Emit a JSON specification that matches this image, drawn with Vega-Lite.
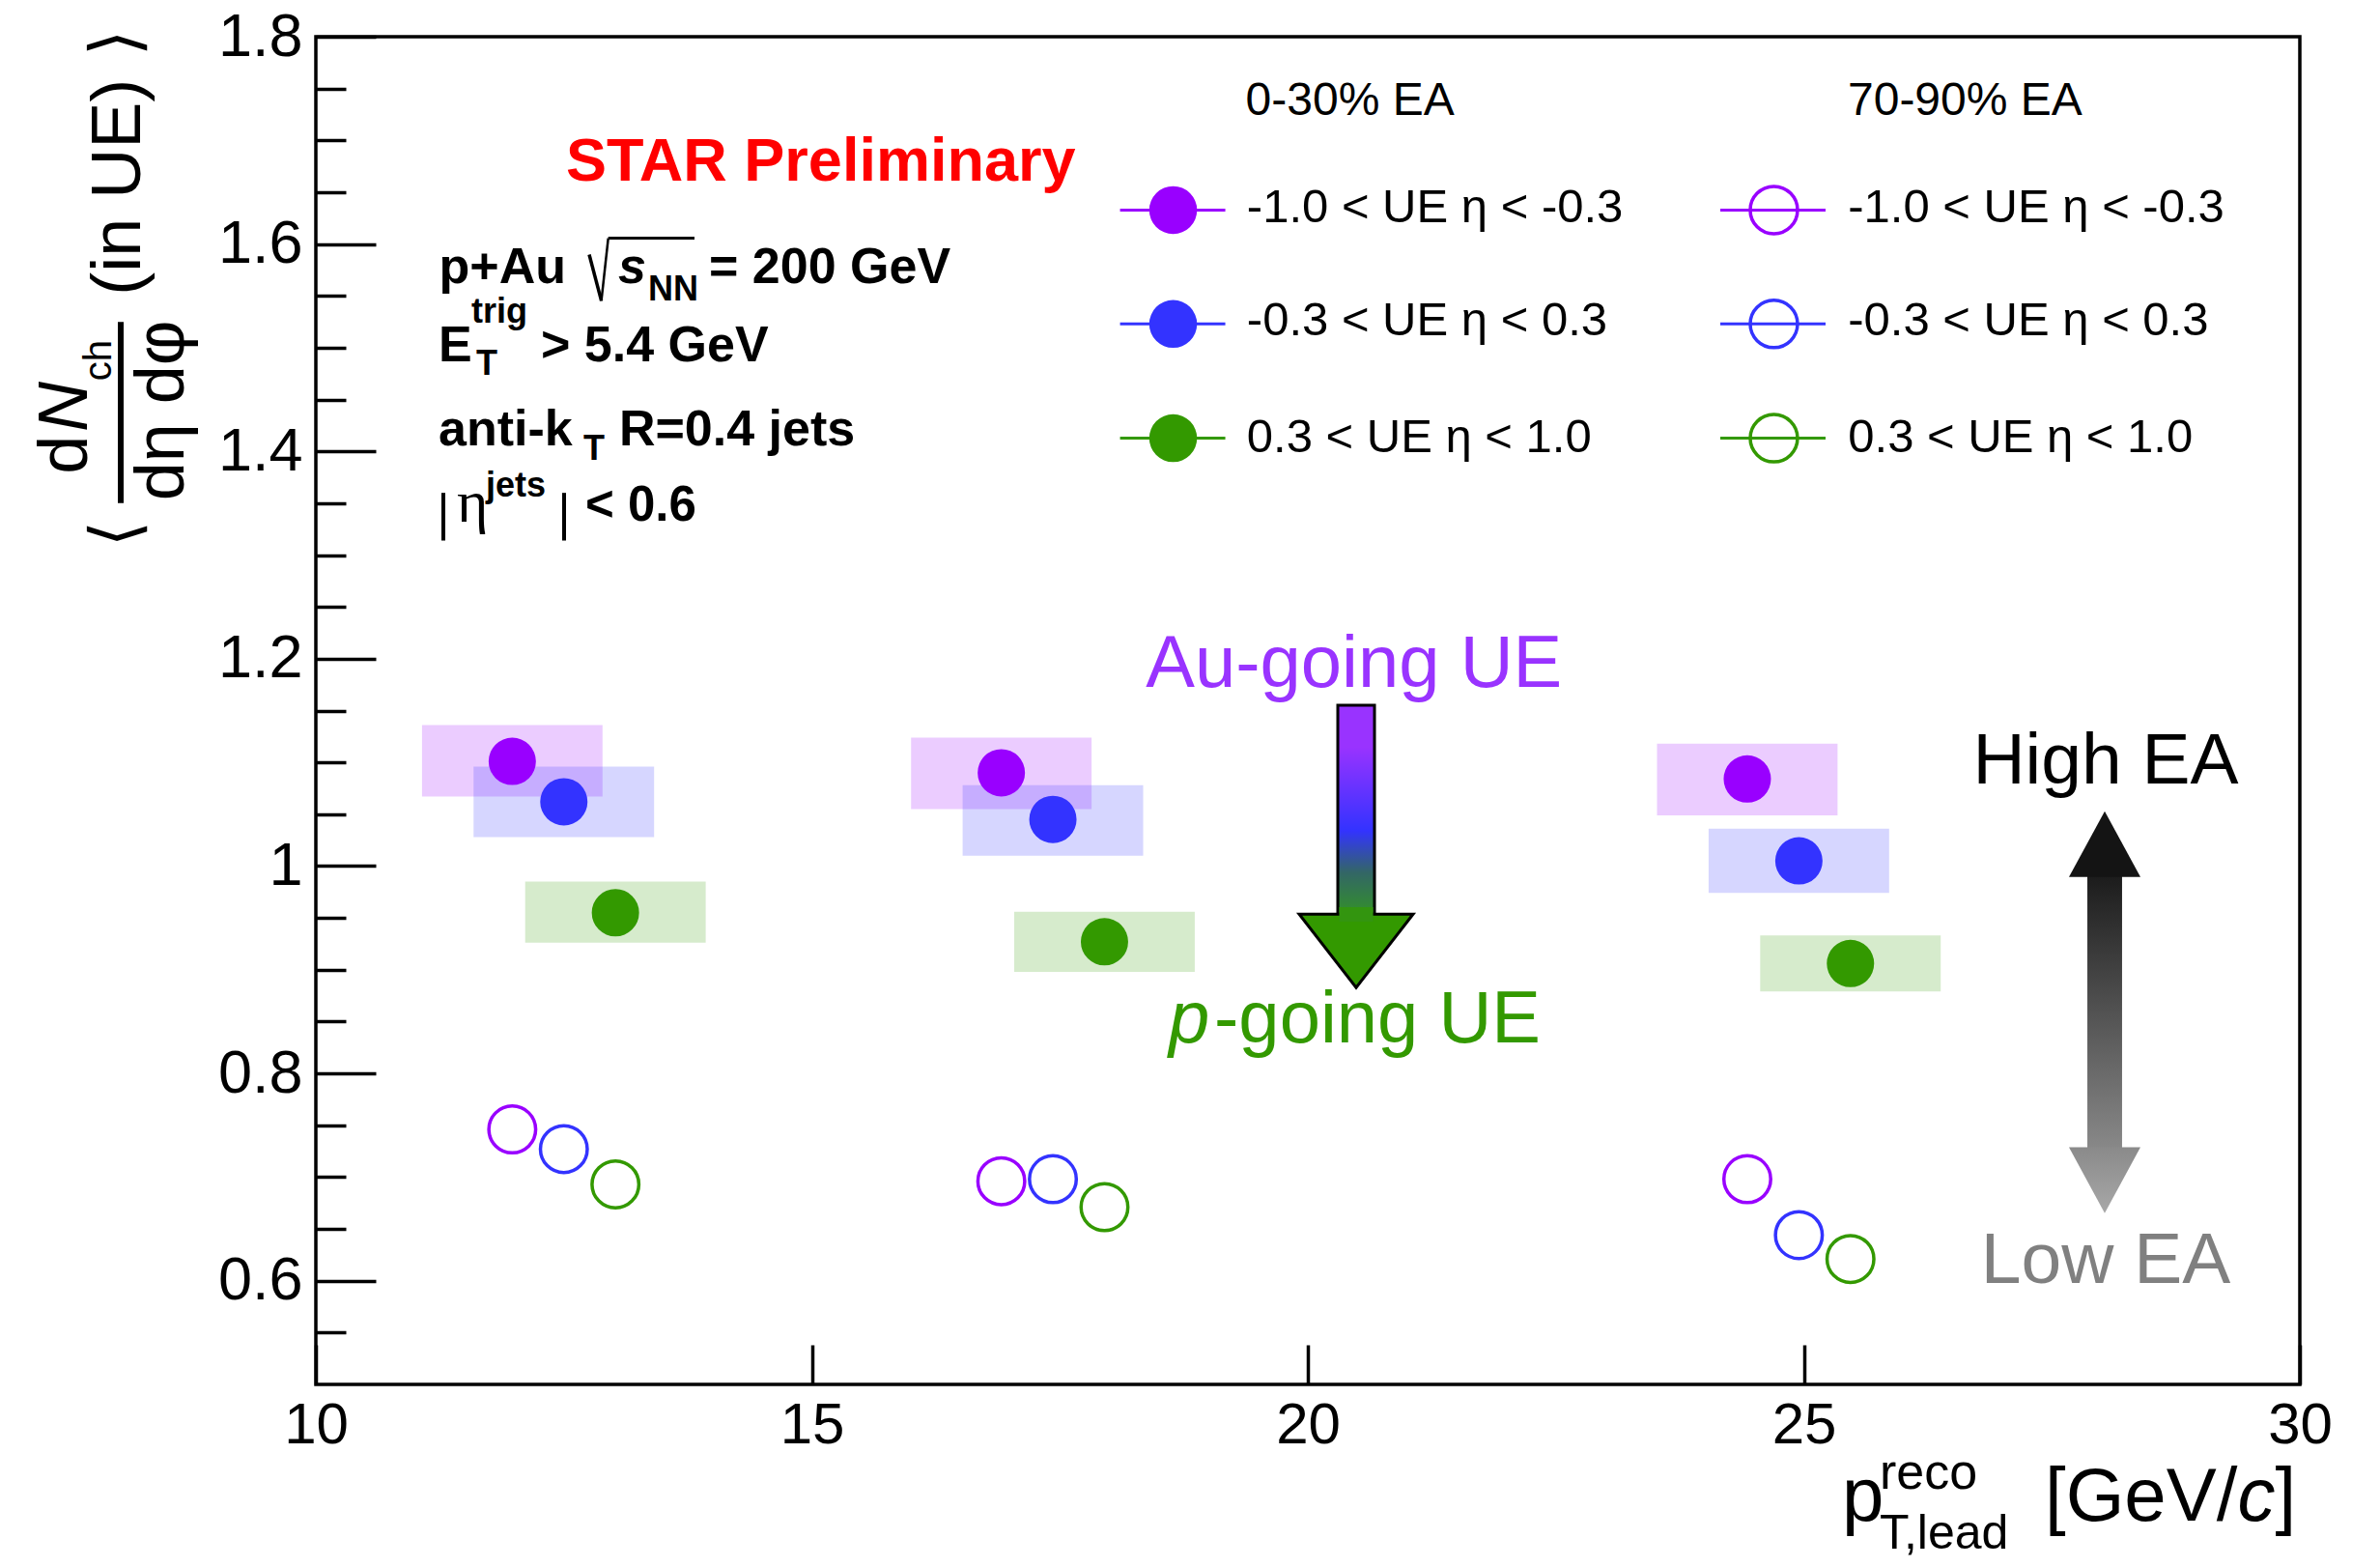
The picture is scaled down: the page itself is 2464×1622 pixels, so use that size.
{
  "$schema": "https://vega.github.io/schema/vega-lite/v6.json",
  "width": 2054,
  "height": 1395,
  "autosize": "none",
  "padding": {"left": 327, "top": 38, "right": 83, "bottom": 189},
  "background": "white",
  "config": {
    "font": "Liberation Sans",
    "view": {"stroke": "black", "strokeWidth": 3.5}
  },
  "resolve": {"axis": {"x": "independent", "y": "independent"}},
  "datasets": {
    "sys": [
      {"eta": "-1.0 < UE η < -0.3", "x0": 11.07, "x1": 12.89, "y0": 1.067, "y1": 1.136},
      {"eta": "-0.3 < UE η < 0.3", "x0": 11.59, "x1": 13.41, "y0": 1.028, "y1": 1.096},
      {"eta": "0.3 < UE η < 1.0", "x0": 12.11, "x1": 13.93, "y0": 0.926, "y1": 0.985},
      {"eta": "-1.0 < UE η < -0.3", "x0": 16.0, "x1": 17.82, "y0": 1.055, "y1": 1.124},
      {"eta": "-0.3 < UE η < 0.3", "x0": 16.52, "x1": 18.34, "y0": 1.01, "y1": 1.078},
      {"eta": "0.3 < UE η < 1.0", "x0": 17.04, "x1": 18.86, "y0": 0.898, "y1": 0.956},
      {"eta": "-1.0 < UE η < -0.3", "x0": 23.52, "x1": 25.34, "y0": 1.049, "y1": 1.118},
      {"eta": "-0.3 < UE η < 0.3", "x0": 24.04, "x1": 25.86, "y0": 0.974, "y1": 1.036},
      {"eta": "0.3 < UE η < 1.0", "x0": 24.56, "x1": 26.38, "y0": 0.879, "y1": 0.933}
    ],
    "high": [
      {"eta": "-1.0 < UE η < -0.3", "pt": 11.98, "val": 1.101},
      {"eta": "-0.3 < UE η < 0.3", "pt": 12.5, "val": 1.062},
      {"eta": "0.3 < UE η < 1.0", "pt": 13.02, "val": 0.955},
      {"eta": "-1.0 < UE η < -0.3", "pt": 16.91, "val": 1.09},
      {"eta": "-0.3 < UE η < 0.3", "pt": 17.43, "val": 1.045},
      {"eta": "0.3 < UE η < 1.0", "pt": 17.95, "val": 0.927},
      {"eta": "-1.0 < UE η < -0.3", "pt": 24.43, "val": 1.084},
      {"eta": "-0.3 < UE η < 0.3", "pt": 24.95, "val": 1.005},
      {"eta": "0.3 < UE η < 1.0", "pt": 25.47, "val": 0.906}
    ],
    "low": [
      {"eta": "-1.0 < UE η < -0.3", "pt": 11.98, "val": 0.746},
      {"eta": "-0.3 < UE η < 0.3", "pt": 12.5, "val": 0.727},
      {"eta": "0.3 < UE η < 1.0", "pt": 13.02, "val": 0.693},
      {"eta": "-1.0 < UE η < -0.3", "pt": 16.91, "val": 0.696},
      {"eta": "-0.3 < UE η < 0.3", "pt": 17.43, "val": 0.698},
      {"eta": "0.3 < UE η < 1.0", "pt": 17.95, "val": 0.671},
      {"eta": "-1.0 < UE η < -0.3", "pt": 24.43, "val": 0.698},
      {"eta": "-0.3 < UE η < 0.3", "pt": 24.95, "val": 0.644},
      {"eta": "0.3 < UE η < 1.0", "pt": 25.47, "val": 0.621}
    ]
  },
  "layer": [
    {
      "data": {"name": "sys"},
      "mark": {"type": "rect", "opacity": 0.2},
      "encoding": {
        "x": {"field": "x0", "type": "quantitative",
          "scale": {"domain": [10, 30], "nice": false, "zero": false},
          "axis": null},
        "x2": {"field": "x1"},
        "y": {"field": "y0", "type": "quantitative",
          "scale": {"domain": [0.5, 1.8], "nice": false, "zero": false},
          "axis": {"title": null, "orient": "left",
            "values": [0.6, 0.8, 1, 1.2, 1.4, 1.6, 1.8],
            "tickSize": -62,
            "labelExpr": "format(datum.value,'.1~f')",
            "tickWidth": 3.5, "tickColor": "black", "labelPadding": 76, "labelFont": "Liberation Sans", "labelFontSize": 63,
            "labelColor": "black", "labelOverlap": false, "labelFlush": false, "domain": false, "grid": false}},
        "y2": {"field": "y1"},
        "color": {"field": "eta", "type": "nominal",
          "scale": {"domain": ["-1.0 < UE η < -0.3", "-0.3 < UE η < 0.3", "0.3 < UE η < 1.0"], "range": ["#9900ff", "#3333ff", "#339900"]},
          "legend": null}
      }
    },
    {
      "data": {"name": "high"},
      "mark": {"type": "point", "filled": true, "size": 2400, "opacity": 1, "strokeWidth": 0},
      "encoding": {
        "x": {"field": "pt", "type": "quantitative",
          "axis": {"title": null, "orient": "bottom", "values": [10, 15, 20, 25, 30], "tickSize": -41, "tickWidth": 3.5, "tickColor": "black",
            "labelPadding": 54, "labelFont": "Liberation Sans", "labelFontSize": 60, "labelColor": "black", "labelFlush": false,
            "labelExpr": "format(datum.value,'d')", "domain": false, "grid": false}},
        "y": {"field": "val", "type": "quantitative",
          "axis": {"title": null, "orient": "left",
            "values": [0.55, 0.65, 0.7, 0.75, 0.85, 0.9, 0.95, 1.05, 1.1, 1.15, 1.25, 1.3, 1.35, 1.45, 1.5, 1.55, 1.65, 1.7, 1.75],
            "tickSize": -31, "tickWidth": 3.5, "tickColor": "black", "labels": false, "domain": false, "grid": false}},
        "color": {"field": "eta", "type": "nominal",
          "scale": {"domain": ["-1.0 < UE η < -0.3", "-0.3 < UE η < 0.3", "0.3 < UE η < 1.0"], "range": ["#9900ff", "#3333ff", "#339900"]},
          "legend": null}
      }
    },
    {
      "data": {"name": "low"},
      "mark": {"type": "point", "filled": false, "size": 2350, "opacity": 1, "strokeWidth": 3.5},
      "encoding": {
        "x": {"field": "pt", "type": "quantitative", "axis": null},
        "y": {"field": "val", "type": "quantitative", "axis": null},
        "color": {"field": "eta", "type": "nominal",
          "scale": {"domain": ["-1.0 < UE η < -0.3", "-0.3 < UE η < 0.3", "0.3 < UE η < 1.0"], "range": ["#9900ff", "#3333ff", "#339900"]},
          "legend": null}
      }
    },
    {"data": {"values": [{}]}, "mark": {"type": "text", "text": "0-30% EA", "fontSize": 48, "color": "black", "align": "left", "baseline": "alphabetic"},
      "encoding": {"x": {"datum": 19.373, "type": "quantitative", "axis": null}, "y": {"datum": 1.7247, "type": "quantitative", "axis": null}}},
    {"data": {"values": [{}]}, "mark": {"type": "text", "text": "70-90% EA", "fontSize": 48, "color": "black", "align": "left", "baseline": "alphabetic"},
      "encoding": {"x": {"datum": 25.443, "type": "quantitative", "axis": null}, "y": {"datum": 1.7247, "type": "quantitative", "axis": null}}},

    {"data": {"values": [{}]}, "mark": {"type": "rule", "color": "#9900ff", "strokeWidth": 3},
      "encoding": {"x": {"datum": 18.107, "type": "quantitative", "axis": null}, "x2": {"datum": 19.168}, "y": {"datum": 1.6328, "type": "quantitative", "axis": null}}},
    {"data": {"values": [{}]}, "mark": {"type": "point", "filled": true, "fill": "#9900ff", "strokeWidth": 0, "size": 2450, "opacity": 1},
      "encoding": {"x": {"datum": 18.642, "type": "quantitative", "axis": null}, "y": {"datum": 1.6328, "type": "quantitative", "axis": null}}},
    {"data": {"values": [{}]}, "mark": {"type": "text", "text": "-1.0 < UE η < -0.3", "fontSize": 49, "color": "black", "align": "left", "baseline": "alphabetic"},
      "encoding": {"x": {"datum": 19.385, "type": "quantitative", "axis": null}, "y": {"datum": 1.6211, "type": "quantitative", "axis": null}}},

    {"data": {"values": [{}]}, "mark": {"type": "rule", "color": "#3333ff", "strokeWidth": 3},
      "encoding": {"x": {"datum": 18.107, "type": "quantitative", "axis": null}, "x2": {"datum": 19.168}, "y": {"datum": 1.5229, "type": "quantitative", "axis": null}}},
    {"data": {"values": [{}]}, "mark": {"type": "point", "filled": true, "fill": "#3333ff", "strokeWidth": 0, "size": 2450, "opacity": 1},
      "encoding": {"x": {"datum": 18.642, "type": "quantitative", "axis": null}, "y": {"datum": 1.5229, "type": "quantitative", "axis": null}}},
    {"data": {"values": [{}]}, "mark": {"type": "text", "text": "-0.3 < UE η < 0.3", "fontSize": 49, "color": "black", "align": "left", "baseline": "alphabetic"},
      "encoding": {"x": {"datum": 19.385, "type": "quantitative", "axis": null}, "y": {"datum": 1.5118, "type": "quantitative", "axis": null}}},

    {"data": {"values": [{}]}, "mark": {"type": "rule", "color": "#339900", "strokeWidth": 3},
      "encoding": {"x": {"datum": 18.107, "type": "quantitative", "axis": null}, "x2": {"datum": 19.168}, "y": {"datum": 1.4127, "type": "quantitative", "axis": null}}},
    {"data": {"values": [{}]}, "mark": {"type": "point", "filled": true, "fill": "#339900", "strokeWidth": 0, "size": 2450, "opacity": 1},
      "encoding": {"x": {"datum": 18.642, "type": "quantitative", "axis": null}, "y": {"datum": 1.4127, "type": "quantitative", "axis": null}}},
    {"data": {"values": [{}]}, "mark": {"type": "text", "text": "0.3 < UE η < 1.0", "fontSize": 49, "color": "black", "align": "left", "baseline": "alphabetic"},
      "encoding": {"x": {"datum": 19.385, "type": "quantitative", "axis": null}, "y": {"datum": 1.3997, "type": "quantitative", "axis": null}}},

    {"data": {"values": [{}]}, "mark": {"type": "rule", "color": "#9900ff", "strokeWidth": 3},
      "encoding": {"x": {"datum": 24.158, "type": "quantitative", "axis": null}, "x2": {"datum": 25.219}, "y": {"datum": 1.6328, "type": "quantitative", "axis": null}}},
    {"data": {"values": [{}]}, "mark": {"type": "point", "filled": false, "stroke": "#9900ff", "strokeWidth": 3.5, "size": 2400, "opacity": 1},
      "encoding": {"x": {"datum": 24.698, "type": "quantitative", "axis": null}, "y": {"datum": 1.6328, "type": "quantitative", "axis": null}}},
    {"data": {"values": [{}]}, "mark": {"type": "text", "text": "-1.0 < UE η < -0.3", "fontSize": 49, "color": "black", "align": "left", "baseline": "alphabetic"},
      "encoding": {"x": {"datum": 25.446, "type": "quantitative", "axis": null}, "y": {"datum": 1.6211, "type": "quantitative", "axis": null}}},

    {"data": {"values": [{}]}, "mark": {"type": "rule", "color": "#3333ff", "strokeWidth": 3},
      "encoding": {"x": {"datum": 24.158, "type": "quantitative", "axis": null}, "x2": {"datum": 25.219}, "y": {"datum": 1.5229, "type": "quantitative", "axis": null}}},
    {"data": {"values": [{}]}, "mark": {"type": "point", "filled": false, "stroke": "#3333ff", "strokeWidth": 3.5, "size": 2400, "opacity": 1},
      "encoding": {"x": {"datum": 24.698, "type": "quantitative", "axis": null}, "y": {"datum": 1.5229, "type": "quantitative", "axis": null}}},
    {"data": {"values": [{}]}, "mark": {"type": "text", "text": "-0.3 < UE η < 0.3", "fontSize": 49, "color": "black", "align": "left", "baseline": "alphabetic"},
      "encoding": {"x": {"datum": 25.446, "type": "quantitative", "axis": null}, "y": {"datum": 1.5118, "type": "quantitative", "axis": null}}},

    {"data": {"values": [{}]}, "mark": {"type": "rule", "color": "#339900", "strokeWidth": 3},
      "encoding": {"x": {"datum": 24.158, "type": "quantitative", "axis": null}, "x2": {"datum": 25.219}, "y": {"datum": 1.4127, "type": "quantitative", "axis": null}}},
    {"data": {"values": [{}]}, "mark": {"type": "point", "filled": false, "stroke": "#339900", "strokeWidth": 3.5, "size": 2400, "opacity": 1},
      "encoding": {"x": {"datum": 24.698, "type": "quantitative", "axis": null}, "y": {"datum": 1.4127, "type": "quantitative", "axis": null}}},
    {"data": {"values": [{}]}, "mark": {"type": "text", "text": "0.3 < UE η < 1.0", "fontSize": 49, "color": "black", "align": "left", "baseline": "alphabetic"},
      "encoding": {"x": {"datum": 25.446, "type": "quantitative", "axis": null}, "y": {"datum": 1.3997, "type": "quantitative", "axis": null}}},

    {
      "data": {"values": [{}]},
      "mark": {"type": "rect", "stroke": "black", "strokeWidth": 3,
        "fill": {"gradient": "linear", "x1": 0, "y1": 0, "x2": 0, "y2": 1,
          "stops": [{"offset": 0, "color": "#9933ff"}, {"offset": 0.2, "color": "#9933ff"}, {"offset": 0.6, "color": "#3333ff"}, {"offset": 0.8, "color": "#336666"}, {"offset": 1, "color": "#33902a"}]}},
      "encoding": {
        "x": {"datum": 20.302, "type": "quantitative", "axis": null},
        "x2": {"datum": 20.672},
        "y": {"datum": 1.1552, "type": "quantitative", "axis": null},
        "y2": {"datum": 0.9535}
      }
    },
    {
      "data": {"values": [{}]},
      "mark": {"type": "point", "shape": "M -1 -0.644 L 1 -0.644 L 0 0.644 Z", "size": 13924, "filled": true, "fill": "#339900", "stroke": "black", "strokeWidth": 3, "opacity": 1},
      "encoding": {
        "x": {"datum": 20.487, "type": "quantitative", "axis": null},
        "y": {"datum": 0.9182, "type": "quantitative", "axis": null}
      }
    },
    {
      "data": {"values": [{}]},
      "mark": {"type": "rect", "fill": "#33950f", "opacity": 1},
      "encoding": {
        "x": {"datum": 20.316, "type": "quantitative", "axis": null},
        "x2": {"datum": 20.658},
        "y": {"datum": 0.9603, "type": "quantitative", "axis": null},
        "y2": {"datum": 0.9463}
      }
    },
    {
      "data": {"values": [{}]},
      "mark": {"type": "rect",
        "fill": {"gradient": "linear", "x1": 0, "y1": 0, "x2": 0, "y2": 1,
          "stops": [{"offset": 0, "color": "#1a1a1a"}, {"offset": 1, "color": "#8a8a8a"}]}},
      "encoding": {
        "x": {"datum": 27.858, "type": "quantitative", "axis": null},
        "x2": {"datum": 28.208},
        "y": {"datum": 0.995, "type": "quantitative", "axis": null},
        "y2": {"datum": 0.7235}
      }
    },
    {
      "data": {"values": [{}]},
      "mark": {"type": "point", "shape": "M 0 -0.92 L 1 0.92 L -1 0.92 Z", "size": 5476, "filled": true, "fill": "#141414", "strokeWidth": 0, "opacity": 1},
      "encoding": {
        "x": {"datum": 28.033, "type": "quantitative", "axis": null},
        "y": {"datum": 1.0211, "type": "quantitative", "axis": null}
      }
    },
    {
      "data": {"values": [{}]},
      "mark": {"type": "point", "shape": "M -1 -0.92 L 1 -0.92 L 0 0.92 Z", "size": 5476, "filled": true, "strokeWidth": 0, "opacity": 1,
        "fill": {"gradient": "linear", "x1": 0, "y1": 0, "x2": 0, "y2": 1,
          "stops": [{"offset": 0, "color": "#8a8a8a"}, {"offset": 1, "color": "#a8a8a8"}]}},
      "encoding": {
        "x": {"datum": 28.033, "type": "quantitative", "axis": null},
        "y": {"datum": 0.697, "type": "quantitative", "axis": null}
      }
    },
    {
      "data": {"values": [{}]},
      "mark": {"type": "rule", "color": "black", "strokeWidth": 3.5},
      "encoding": {
        "x": {"datum": 12.7556, "type": "quantitative", "axis": null}, "x2": {"datum": 12.8783},
        "y": {"datum": 1.5898, "type": "quantitative", "axis": null}, "y2": {"datum": 1.5452}
      }
    },
    {
      "data": {"values": [{}]},
      "mark": {"type": "rule", "color": "black", "strokeWidth": 2.5},
      "encoding": {
        "x": {"datum": 12.8783, "type": "quantitative", "axis": null}, "x2": {"datum": 12.9474},
        "y": {"datum": 1.5452, "type": "quantitative", "axis": null}, "y2": {"datum": 1.6056}
      }
    },
    {
      "data": {"values": [{}]},
      "mark": {"type": "rule", "color": "black", "strokeWidth": 3},
      "encoding": {
        "x": {"datum": 12.9474, "type": "quantitative", "axis": null},
        "x2": {"datum": 13.817},
        "y": {"datum": 1.6056, "type": "quantitative", "axis": null}
      }
    },
    {
      "data": {"values": [{}]},
      "mark": {"type": "rule", "color": "black", "strokeWidth": 4},
      "encoding": {
        "x": {"datum": 11.2853, "type": "quantitative", "axis": null},
        "y": {"datum": 1.3600, "type": "quantitative", "axis": null}, "y2": {"datum": 1.3140}
      }
    },
    {
      "data": {"values": [{}]},
      "mark": {"type": "rule", "color": "black", "strokeWidth": 4},
      "encoding": {
        "x": {"datum": 12.5024, "type": "quantitative", "axis": null},
        "y": {"datum": 1.3600, "type": "quantitative", "axis": null}, "y2": {"datum": 1.3140}
      }
    },
    {
      "data": {"values": [{}]},
      "mark": {"type": "rule", "color": "black", "strokeWidth": 6},
      "encoding": {
        "x": {"datum": 8.033, "type": "quantitative", "axis": null},
        "y": {"datum": 1.5248, "type": "quantitative", "axis": null},
        "y2": {"datum": 1.3502}
      }
    },
    {"data": {"values": [{}]}, "mark": {"type": "text", "text": "STAR Preliminary", "fontSize": 63, "fontWeight": "bold", "color": "#ff0000", "align": "left", "baseline": "alphabetic"},
      "encoding": {"x": {"datum": 12.522, "type": "quantitative", "axis": null}, "y": {"datum": 1.6613, "type": "quantitative", "axis": null}}},
    {"data": {"values": [{}]}, "mark": {"type": "text", "text": "p+Au", "fontSize": 52, "fontWeight": "bold", "color": "black", "align": "left", "baseline": "alphabetic"},
      "encoding": {"x": {"datum": 11.2415, "type": "quantitative", "axis": null}, "y": {"datum": 1.5622, "type": "quantitative", "axis": null}}},
    {"data": {"values": [{}]}, "mark": {"type": "text", "text": "s", "fontSize": 52, "fontWeight": "bold", "fontStyle": "italic", "color": "black", "align": "left", "baseline": "alphabetic"},
      "encoding": {"x": {"datum": 13.0477, "type": "quantitative", "axis": null}, "y": {"datum": 1.5622, "type": "quantitative", "axis": null}}},
    {"data": {"values": [{}]}, "mark": {"type": "text", "text": "NN", "fontSize": 36, "fontWeight": "bold", "color": "black", "align": "left", "baseline": "alphabetic"},
      "encoding": {"x": {"datum": 13.3496, "type": "quantitative", "axis": null}, "y": {"datum": 1.5452, "type": "quantitative", "axis": null}}},
    {"data": {"values": [{}]}, "mark": {"type": "text", "text": "= 200 GeV", "fontSize": 52, "fontWeight": "bold", "color": "black", "align": "left", "baseline": "alphabetic"},
      "encoding": {"x": {"datum": 13.963, "type": "quantitative", "axis": null}, "y": {"datum": 1.5622, "type": "quantitative", "axis": null}}},
    {"data": {"values": [{}]}, "mark": {"type": "text", "text": "E", "fontSize": 52, "fontWeight": "bold", "color": "black", "align": "left", "baseline": "alphabetic"},
      "encoding": {"x": {"datum": 11.2366, "type": "quantitative", "axis": null}, "y": {"datum": 1.4867, "type": "quantitative", "axis": null}}},
    {"data": {"values": [{}]}, "mark": {"type": "text", "text": "T", "fontSize": 36, "fontWeight": "bold", "color": "black", "align": "left", "baseline": "alphabetic"},
      "encoding": {"x": {"datum": 11.6164, "type": "quantitative", "axis": null}, "y": {"datum": 1.4737, "type": "quantitative", "axis": null}}},
    {"data": {"values": [{}]}, "mark": {"type": "text", "text": "trig", "fontSize": 36, "fontWeight": "bold", "color": "black", "align": "left", "baseline": "alphabetic"},
      "encoding": {"x": {"datum": 11.5677, "type": "quantitative", "axis": null}, "y": {"datum": 1.5239, "type": "quantitative", "axis": null}}},
    {"data": {"values": [{}]}, "mark": {"type": "text", "text": "> 5.4 GeV", "fontSize": 52, "fontWeight": "bold", "color": "black", "align": "left", "baseline": "alphabetic"},
      "encoding": {"x": {"datum": 12.2687, "type": "quantitative", "axis": null}, "y": {"datum": 1.4867, "type": "quantitative", "axis": null}}},
    {"data": {"values": [{}]}, "mark": {"type": "text", "text": "anti-k", "fontSize": 52, "fontWeight": "bold", "color": "black", "align": "left", "baseline": "alphabetic"},
      "encoding": {"x": {"datum": 11.2366, "type": "quantitative", "axis": null}, "y": {"datum": 1.4059, "type": "quantitative", "axis": null}}},
    {"data": {"values": [{}]}, "mark": {"type": "text", "text": "T", "fontSize": 36, "fontWeight": "bold", "color": "black", "align": "left", "baseline": "alphabetic"},
      "encoding": {"x": {"datum": 12.6972, "type": "quantitative", "axis": null}, "y": {"datum": 1.3922, "type": "quantitative", "axis": null}}},
    {"data": {"values": [{}]}, "mark": {"type": "text", "text": "R=0.4 jets", "fontSize": 52, "fontWeight": "bold", "color": "black", "align": "left", "baseline": "alphabetic"},
      "encoding": {"x": {"datum": 13.057, "type": "quantitative", "axis": null}, "y": {"datum": 1.4059, "type": "quantitative", "axis": null}}},
    {"data": {"values": [{}]}, "mark": {"type": "text", "text": "η", "font": "Liberation Serif", "fontSize": 62, "fontWeight": "normal", "color": "black", "align": "left", "baseline": "alphabetic"},
      "encoding": {"x": {"datum": 11.4216, "type": "quantitative", "axis": null}, "y": {"datum": 1.3323, "type": "quantitative", "axis": null}}},
    {"data": {"values": [{}]}, "mark": {"type": "text", "text": "jets", "fontSize": 36, "fontWeight": "bold", "color": "black", "align": "left", "baseline": "alphabetic"},
      "encoding": {"x": {"datum": 11.7137, "type": "quantitative", "axis": null}, "y": {"datum": 1.3567, "type": "quantitative", "axis": null}}},
    {"data": {"values": [{}]}, "mark": {"type": "text", "text": "< 0.6", "fontSize": 51, "fontWeight": "bold", "color": "black", "align": "left", "baseline": "alphabetic"},
      "encoding": {"x": {"datum": 12.7166, "type": "quantitative", "axis": null}, "y": {"datum": 1.3332, "type": "quantitative", "axis": null}}},
    {"data": {"values": [{}]}, "mark": {"type": "text", "text": "Au-going UE", "fontSize": 76, "color": "#9933ff", "align": "center", "baseline": "alphabetic"},
      "encoding": {"x": {"datum": 20.465, "type": "quantitative", "axis": null}, "y": {"datum": 1.1732, "type": "quantitative", "axis": null}}},
    {"data": {"values": [{}]}, "mark": {"type": "text", "text": "p", "fontSize": 76, "fontStyle": "italic", "color": "#339900", "align": "left", "baseline": "alphabetic"},
      "encoding": {"x": {"datum": 18.598, "type": "quantitative", "axis": null}, "y": {"datum": 0.8303, "type": "quantitative", "axis": null}}},
    {"data": {"values": [{}]}, "mark": {"type": "text", "text": "-going UE", "fontSize": 76, "color": "#339900", "align": "left", "baseline": "alphabetic"},
      "encoding": {"x": {"datum": 19.056, "type": "quantitative", "axis": null}, "y": {"datum": 0.8303, "type": "quantitative", "axis": null}}},
    {"data": {"values": [{}]}, "mark": {"type": "text", "text": "High EA", "fontSize": 75, "color": "black", "align": "center", "baseline": "alphabetic"},
      "encoding": {"x": {"datum": 28.043, "type": "quantitative", "axis": null}, "y": {"datum": 1.0796, "type": "quantitative", "axis": null}}},
    {"data": {"values": [{}]}, "mark": {"type": "text", "text": "Low EA", "fontSize": 75, "color": "#808080", "align": "center", "baseline": "alphabetic"},
      "encoding": {"x": {"datum": 28.043, "type": "quantitative", "axis": null}, "y": {"datum": 0.5981, "type": "quantitative", "axis": null}}},
    {"data": {"values": [{}]}, "mark": {"type": "text", "text": "⟩", "font": "DejaVu Sans", "fontSize": 70, "color": "black", "angle": 270, "align": "center", "baseline": "middle"},
      "encoding": {"x": {"datum": 8.004, "type": "quantitative", "axis": null}, "y": {"datum": 1.794, "type": "quantitative", "axis": null}}},
    {"data": {"values": [{}]}, "mark": {"type": "text", "text": "(in UE)", "fontSize": 72, "color": "black", "angle": 270, "align": "center", "baseline": "alphabetic"},
      "encoding": {"x": {"datum": 8.228, "type": "quantitative", "axis": null}, "y": {"datum": 1.6548, "type": "quantitative", "axis": null}}},
    {"data": {"values": [{}]}, "mark": {"type": "text", "text": "d", "fontSize": 72, "color": "black", "angle": 270, "align": "center", "baseline": "alphabetic"},
      "encoding": {"x": {"datum": 7.692, "type": "quantitative", "axis": null}, "y": {"datum": 1.3967, "type": "quantitative", "axis": null}}},
    {"data": {"values": [{}]}, "mark": {"type": "text", "text": "N", "fontSize": 72, "fontStyle": "italic", "color": "black", "angle": 270, "align": "center", "baseline": "alphabetic"},
      "encoding": {"x": {"datum": 7.692, "type": "quantitative", "axis": null}, "y": {"datum": 1.4431, "type": "quantitative", "axis": null}}},
    {"data": {"values": [{}]}, "mark": {"type": "text", "text": "ch", "fontSize": 40, "color": "black", "angle": 270, "align": "center", "baseline": "alphabetic"},
      "encoding": {"x": {"datum": 7.936, "type": "quantitative", "axis": null}, "y": {"datum": 1.4877, "type": "quantitative", "axis": null}}},
    {"data": {"values": [{}]}, "mark": {"type": "text", "text": "dη dφ", "fontSize": 72, "color": "black", "angle": 270, "align": "center", "baseline": "alphabetic"},
      "encoding": {"x": {"datum": 8.666, "type": "quantitative", "axis": null}, "y": {"datum": 1.4394, "type": "quantitative", "axis": null}}},
    {"data": {"values": [{}]}, "mark": {"type": "text", "text": "⟨", "font": "DejaVu Sans", "fontSize": 70, "color": "black", "angle": 270, "align": "center", "baseline": "middle"},
      "encoding": {"x": {"datum": 8.004, "type": "quantitative", "axis": null}, "y": {"datum": 1.3205, "type": "quantitative", "axis": null}}},
    {"data": {"values": [{}]}, "mark": {"type": "text", "text": "p", "fontSize": 78, "color": "black", "align": "left", "baseline": "alphabetic"},
      "encoding": {"x": {"datum": 25.385, "type": "quantitative", "axis": null}, "y": {"datum": 0.3688, "type": "quantitative", "axis": null}}},
    {"data": {"values": [{}]}, "mark": {"type": "text", "text": "reco", "fontSize": 52, "color": "black", "align": "left", "baseline": "alphabetic"},
      "encoding": {"x": {"datum": 25.764, "type": "quantitative", "axis": null}, "y": {"datum": 0.3995, "type": "quantitative", "axis": null}}},
    {"data": {"values": [{}]}, "mark": {"type": "text", "text": "T,lead", "fontSize": 50, "color": "black", "align": "left", "baseline": "alphabetic"},
      "encoding": {"x": {"datum": 25.764, "type": "quantitative", "axis": null}, "y": {"datum": 0.3419, "type": "quantitative", "axis": null}}},
    {"data": {"values": [{}]}, "mark": {"type": "text", "text": "[GeV/", "fontSize": 78, "color": "black", "align": "left", "baseline": "alphabetic"},
      "encoding": {"x": {"datum": 27.429, "type": "quantitative", "axis": null}, "y": {"datum": 0.3688, "type": "quantitative", "axis": null}}},
    {"data": {"values": [{}]}, "mark": {"type": "text", "text": "c", "fontSize": 78, "fontStyle": "italic", "color": "black", "align": "left", "baseline": "alphabetic"},
      "encoding": {"x": {"datum": 29.372, "type": "quantitative", "axis": null}, "y": {"datum": 0.3688, "type": "quantitative", "axis": null}}},
    {"data": {"values": [{}]}, "mark": {"type": "text", "text": "]", "fontSize": 78, "color": "black", "align": "left", "baseline": "alphabetic"},
      "encoding": {"x": {"datum": 29.751, "type": "quantitative", "axis": null}, "y": {"datum": 0.3688, "type": "quantitative", "axis": null}}}
  ]
}
